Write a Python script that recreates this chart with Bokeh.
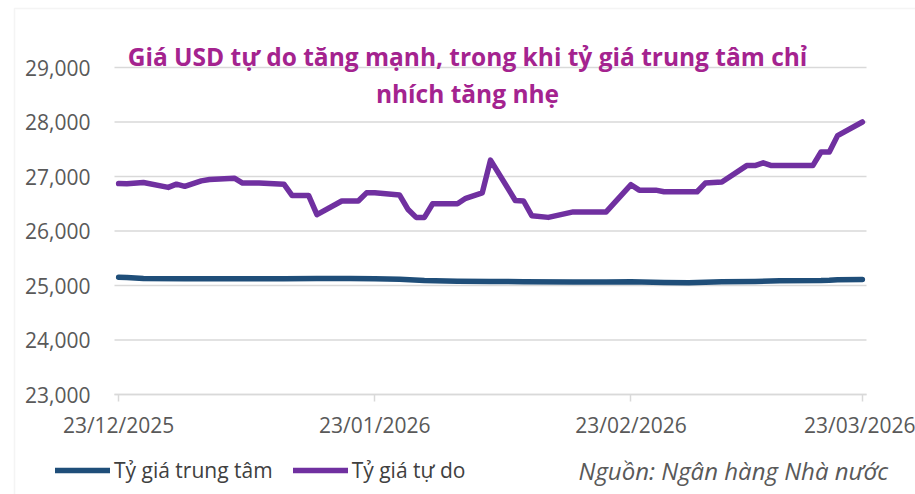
import pandas as pd
from bokeh.plotting import figure
from bokeh.models import (Range1d, FixedTicker, NumeralTickFormatter, Label, Legend,
                          LegendItem, ColumnDataSource, BoxAnnotation, LinearAxis)
from bokeh.embed import file_html
from bokeh.resources import INLINE

# ---- data ----
start_date = "2025-12-23"
tick_dates = ["2025-12-23", "2026-01-23", "2026-02-23", "2026-03-23"]
tick_labels = ["23/12/2025", "23/01/2026", "23/02/2026", "23/03/2026"]

free_dates = ["2025-12-23", "2025-12-24", "2025-12-26", "2025-12-29", "2025-12-30", "2025-12-31",
              "2026-01-02", "2026-01-03", "2026-01-06", "2026-01-07", "2026-01-09", "2026-01-12",
              "2026-01-13", "2026-01-15", "2026-01-16", "2026-01-19", "2026-01-21", "2026-01-22",
              "2026-01-23", "2026-01-26", "2026-01-27", "2026-01-28", "2026-01-29", "2026-01-30",
              "2026-02-02", "2026-02-03", "2026-02-05", "2026-02-06", "2026-02-09", "2026-02-10",
              "2026-02-11", "2026-02-13", "2026-02-16", "2026-02-20", "2026-02-23", "2026-02-24",
              "2026-02-26", "2026-02-27", "2026-03-02", "2026-03-03", "2026-03-04", "2026-03-06",
              "2026-03-09", "2026-03-10", "2026-03-11", "2026-03-12", "2026-03-17", "2026-03-18",
              "2026-03-19", "2026-03-20", "2026-03-23"]
free_rate = [26870, 26865, 26890, 26800, 26860, 26820,
             26920, 26945, 26970, 26880, 26880, 26860,
             26650, 26650, 26300, 26550, 26550, 26700,
             26700, 26660, 26400, 26250, 26250, 26500,
             26500, 26600, 26700, 27300, 26560, 26550,
             26280, 26250, 26350, 26350, 26850, 26750,
             26750, 26720, 26720, 26720, 26880, 26900,
             27200, 27200, 27250, 27200, 27200, 27450,
             27450, 27750, 28000]

central_dates = ["2025-12-23", "2025-12-24", "2025-12-26", "2025-12-31", "2026-01-05", "2026-01-12",
                 "2026-01-16", "2026-01-20", "2026-01-23", "2026-01-26", "2026-01-29", "2026-02-02",
                 "2026-02-06", "2026-02-10", "2026-02-16", "2026-02-20", "2026-02-23", "2026-02-27",
                 "2026-03-02", "2026-03-06", "2026-03-10", "2026-03-13", "2026-03-18", "2026-03-19",
                 "2026-03-20", "2026-03-23"]
central_rate = [25150, 25148, 25130, 25125, 25125, 25125,
                25130, 25130, 25125, 25115, 25090, 25080,
                25075, 25070, 25065, 25065, 25068, 25055,
                25050, 25070, 25075, 25085, 25090, 25095,
                25105, 25110]

y_ticks = [23000, 24000, 25000, 26000, 27000, 28000, 29000]

title_line1 = "Giá USD tự do tăng mạnh, trong khi tỷ giá trung tâm chỉ"
title_line2 = "nhích tăng nhẹ"
series_names = ["Tỷ giá trung tâm", "Tỷ giá tự do"]
series_colors = ["#1F4E79", "#7030A0"]
source_text = "Nguồn: Ngân hàng Nhà nước"

# ---- helpers ----
t0 = pd.Timestamp(start_date)
def to_days(ds):
    return [(pd.Timestamp(d) - t0).days for d in ds]

last_day = to_days(tick_dates)[-1]

FONT = "Open Sans"
GRID = "#d9d9d9"
TCOL = "#A4238F"
W, H = 915, 494
# chart area inside the canvas (pixels); the frame covers the whole canvas
PX_L, PX_R, PX_T, PX_B = 114, 866, 67, 394
xa, xb = -0.5, last_day + 0.5
ya, yb = min(y_ticks), max(y_ticks)
ppd = (PX_R - PX_L) / (xb - xa)
ppv = (PX_B - PX_T) / (yb - ya)
x_range = Range1d(xa - PX_L / ppd, xb + (W - PX_R) / ppd)
y_range = Range1d(ya - (H - PX_B) / ppv, yb + PX_T / ppv)

p = figure(width=W, height=H, output_backend="svg", toolbar_location=None,
           x_range=x_range, y_range=y_range, x_axis_location=None, y_axis_location=None,
           min_border=0)
p.title.visible = False
p.outline_line_color = None
p.background_fill_color = "white"
p.border_fill_color = "white"
p.grid.visible = False

# outer chart border (light grey box, left and top edges visible)
p.add_layout(BoxAnnotation(left=14, right=W + 20, top=H - 8, bottom=-20,
                           left_units="screen", right_units="screen",
                           top_units="screen", bottom_units="screen",
                           fill_alpha=0, line_color=GRID, line_width=1.5, level="underlay"))

# horizontal grid lines over the chart area
p.segment(x0=[xa] * len(y_ticks), x1=[xb] * len(y_ticks), y0=y_ticks, y1=y_ticks,
          line_color=GRID, line_width=1.5, level="underlay")

# y axis
yaxis = LinearAxis(fixed_location=xa, ticker=FixedTicker(ticks=y_ticks),
                   formatter=NumeralTickFormatter(format="0,0"))
yaxis.axis_line_color = None
yaxis.major_tick_line_color = None
yaxis.minor_tick_line_color = None
yaxis.major_label_text_font = FONT
yaxis.major_label_text_font_size = "21px"
yaxis.major_label_text_color = "#595959"
yaxis.major_label_standoff = 18
p.add_layout(yaxis, "left")

# x axis (dates)
xt = to_days(tick_dates)
xaxis = LinearAxis(fixed_location=ya, ticker=FixedTicker(ticks=xt), bounds=(xa, xb))
xaxis.major_label_overrides = {t: l for t, l in zip(xt, tick_labels)}
xaxis.axis_line_color = GRID
xaxis.axis_line_width = 1.5
xaxis.major_tick_line_color = GRID
xaxis.major_tick_line_width = 1.5
xaxis.major_tick_out = 7
xaxis.major_tick_in = 0
xaxis.minor_tick_line_color = None
xaxis.major_label_text_font = FONT
xaxis.major_label_text_font_size = "21px"
xaxis.major_label_text_color = "#595959"
xaxis.major_label_standoff = 9
p.add_layout(xaxis, "below")

src_c = ColumnDataSource(dict(x=to_days(central_dates), y=central_rate))
src_f = ColumnDataSource(dict(x=to_days(free_dates), y=free_rate))
r_c = p.line("x", "y", source=src_c, line_color=series_colors[0], line_width=5.5,
             line_cap="round", line_join="round")
r_f = p.line("x", "y", source=src_f, line_color=series_colors[1], line_width=5.5,
             line_cap="round", line_join="round")

# titles (screen units: from the bottom-left of the canvas)
p.add_layout(Label(x=467, y=H - 56, x_units="screen", y_units="screen",
                   text=title_line1, text_align="center", text_baseline="alphabetic",
                   text_font=FONT, text_font_style="bold", text_font_size="24.5px",
                   text_color=TCOL))
p.add_layout(Label(x=467, y=H - 93, x_units="screen", y_units="screen",
                   text=title_line2, text_align="center", text_baseline="alphabetic",
                   text_font=FONT, text_font_style="bold", text_font_size="24.5px",
                   text_color=TCOL))

legend = Legend(items=[LegendItem(label=series_names[0], renderers=[r_c]),
                       LegendItem(label=series_names[1], renderers=[r_f])],
                location=(55, 10), orientation="horizontal",
                glyph_width=55, glyph_height=24, label_height=24,
                label_standoff=4, spacing=20, padding=0, margin=0,
                border_line_color=None, background_fill_alpha=0,
                label_text_font=FONT, label_text_font_size="21px",
                label_text_color="#404040")
p.add_layout(legend, "center")

p.add_layout(Label(x=578, y=24, x_units="screen", y_units="screen",
                   text=source_text, text_align="left", text_baseline="middle",
                   text_font=FONT, text_font_style="italic", text_font_size="24px",
                   text_color="#595959"))

open("out.html", "w").write(file_html(p, INLINE))
